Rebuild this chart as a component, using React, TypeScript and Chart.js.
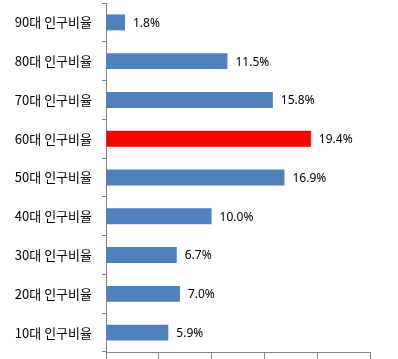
import React, { useEffect, useRef } from "react";
import { Chart, registerables } from "chart.js";

Chart.register(...registerables);

const categories = [
  "90대 인구비율",
  "80대 인구비율",
  "70대 인구비율",
  "60대 인구비율",
  "50대 인구비율",
  "40대 인구비율",
  "30대 인구비율",
  "20대 인구비율",
  "10대 인구비율",
];
const values = [1.8, 11.5, 15.8, 19.4, 16.9, 10.0, 6.7, 7.0, 5.9];
const highlightIndex = 3;
const xMin = 0;
const xMax = 25;
const xStep = 5;

const BLUE = "#4F81BD";
const RED = "#FF0000";
const AXIS = "#868686";

const valueLabels = {
  id: "valueLabels",
  afterDatasetsDraw(chart: any) {
    const ctx = chart.ctx;
    const meta = chart.getDatasetMeta(0);
    ctx.save();
    ctx.font = "12px 'Noto Sans', sans-serif";
    ctx.fillStyle = "#000";
    ctx.textAlign = "left";
    ctx.textBaseline = "middle";
    meta.data.forEach((bar: any, i: number) => {
      const v = chart.data.datasets[0].data[i] as number;
      ctx.fillText(v.toFixed(1) + "%", bar.x + 8, bar.y + 1);
    });
    ctx.restore();
  },
};

export default function App() {
  const ref = useRef<HTMLCanvasElement>(null);
  useEffect(() => {
    if (!ref.current) return;
    const chart = new Chart(ref.current, {
      type: "bar",
      data: {
        labels: categories,
        datasets: [
          {
            data: values,
            backgroundColor: values.map((_, i) => (i === highlightIndex ? RED : BLUE)),
            borderWidth: 0,
            barPercentage: 0.41,
            categoryPercentage: 1,
          },
        ],
      },
      options: {
        indexAxis: "y",
        animation: false,
        responsive: false,
        layout: { padding: { top: 3, right: 28, bottom: 0, left: 0 } },
        plugins: {
          legend: { display: false },
          tooltip: { enabled: false },
        },
        scales: {
          x: {
            min: xMin,
            max: xMax,
            ticks: { display: false, stepSize: xStep },
            grid: {
              drawOnChartArea: false,
              drawTicks: true,
              tickLength: 7,
              color: AXIS,
            },
            border: { display: true, color: AXIS, width: 1 },
            afterFit: (s: any) => {
              s.height = 7;
              s.paddingLeft = 0;
              s.paddingRight = 0;
              s.paddingTop = 0;
              s.paddingBottom = 0;
            },
          },
          y: {
            ticks: {
              color: "#000",
              font: { family: "'Noto Sans CJK KR', sans-serif", size: 13 },
              padding: 10,
            },
            grid: {
              drawOnChartArea: false,
              drawTicks: true,
              tickLength: 4,
              offset: true,
              color: AXIS,
            },
            border: { display: true, color: AXIS, width: 1 },
            afterFit: (s: any) => {
              s.width = 106;
              s.paddingLeft = 0;
              s.paddingRight = 0;
              s.paddingTop = 0;
              s.paddingBottom = 0;
            },
          },
        },
      },
      plugins: [valueLabels],
    });
    return () => chart.destroy();
  }, []);
  return (
    <div style={{ position: "absolute", left: 0, top: 0, width: 398, height: 359, background: "#fff" }}>
      <canvas ref={ref} width={398} height={359} />
    </div>
  );
}
